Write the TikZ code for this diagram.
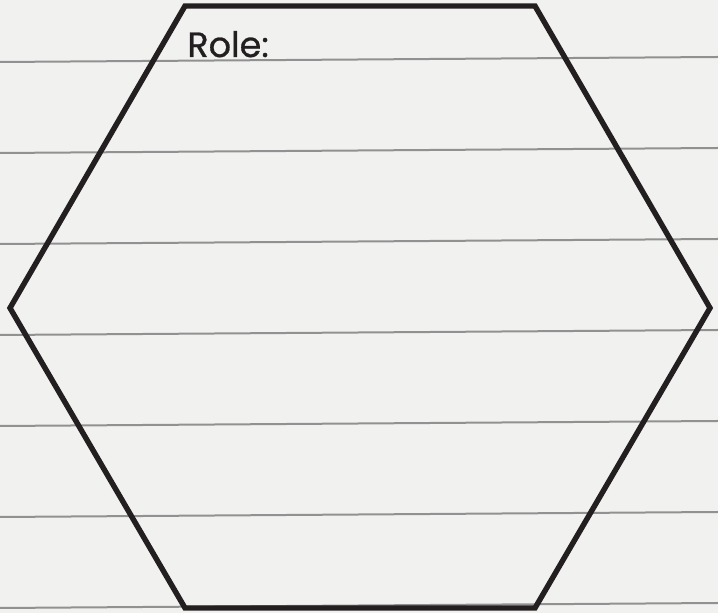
\documentclass[tikz,border=0pt]{standalone}
\usepackage{fontspec}
\setmainfont{Poppins}
\newfontfamily\rolefont{Poppins}[FakeBold=0.7]
\usepackage{tikz}
\usetikzlibrary{positioning}
\definecolor{paper}{RGB}{241, 241, 240}
\definecolor{ruling}{RGB}{145, 145, 145}
\definecolor{inkblk}{RGB}{35, 31, 32}

\begin{document}
\begin{tikzpicture}[x=0.5pt, y=-0.5pt]

  % --- paper sheet ---
  \useasboundingbox (0,0) rectangle (718,613);
  \fill[paper] (0,0) rectangle (718,613);

  % --- ruled lines (slightly tilted) ---
  \foreach \i in {0,...,6}
    \draw[ruling, line width=1pt] (0,62+91*\i) -- (718,57+91*\i);

  % --- hexagon ---
  \coordinate (hexTL) at (185,6);
  \coordinate (hexTR) at (535,6);
  \coordinate (hexR)  at (710,308);
  \coordinate (hexBR) at (535,608);
  \coordinate (hexBL) at (185,608);
  \coordinate (hexL)  at (10,308);
  \draw[inkblk, line width=2.7pt, line join=miter]
    (hexTL) -- (hexTR) -- (hexR) -- (hexBR) -- (hexBL) -- (hexL) -- cycle;

  % --- role label ---
  \node[anchor=base west, inner sep=0pt, text=inkblk,
        font=\rolefont\fontsize{17.5}{20}\selectfont] (role) at (187,57) {Role:};

\end{tikzpicture}
\end{document}
